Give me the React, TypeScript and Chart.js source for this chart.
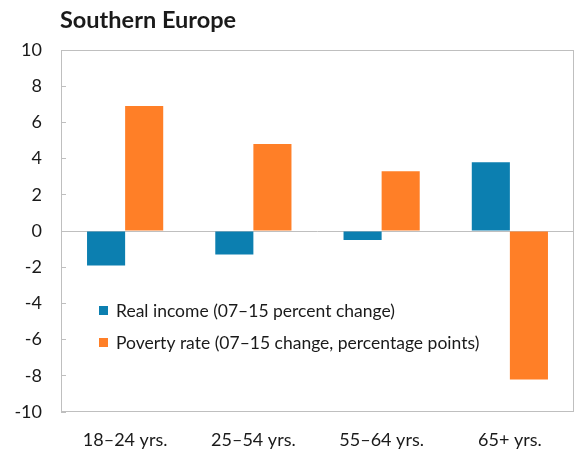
import React, { useEffect, useRef } from "react";
import { Chart, registerables } from "chart.js";

Chart.register(...registerables);

const categories = ["18–24 yrs.", "25–54 yrs.", "55–64 yrs.", "65+ yrs."];
const realIncome = [-1.9, -1.3, -0.5, 3.8];
const povertyRate = [6.9, 4.8, 3.3, -8.2];
const seriesLabels = [
  "Real income (07–15 percent change)",
  "Poverty rate (07–15 change, percentage points)",
];
const seriesColors = ["#0C7FB0", "#FF7F27"];
const titleText = "Southern Europe";

const FONT = "Lato, 'Open Sans', sans-serif";
const TEXT = "#1a1a1a";
const FRAME = "#bfbfbf";

// Frame around the plot, the title and the in-plot legend.
const decorations = {
  id: "decorations",
  afterDatasetsDraw(chart: any) {
    const { ctx, chartArea } = chart;
    ctx.save();
    ctx.strokeStyle = FRAME;
    ctx.lineWidth = 1;
    ctx.strokeRect(
      Math.round(chartArea.left) + 0.5,
      Math.round(chartArea.top) + 0.5,
      Math.round(chartArea.right - chartArea.left) - 1,
      Math.round(chartArea.bottom - chartArea.top) - 1
    );

    ctx.fillStyle = TEXT;
    ctx.font = `bold 23.5px ${FONT}`;
    ctx.textBaseline = "middle";
    ctx.textAlign = "left";
    ctx.fillText(titleText, 60, 20);

    ctx.font = `17.5px ${FONT}`;
    chart.data.datasets.forEach((ds: any, i: number) => {
      const y = 311 + i * 32;
      ctx.fillStyle = ds.backgroundColor;
      ctx.fillRect(99, y - 5, 9, 9);
      ctx.fillStyle = TEXT;
      ctx.fillText(ds.label, 116, y);
    });
    ctx.restore();
  },
};

export default function App() {
  const canvasRef = useRef<HTMLCanvasElement | null>(null);

  useEffect(() => {
    if (!canvasRef.current) return;
    const chart = new Chart(canvasRef.current, {
      type: "bar",
      data: {
        labels: categories,
        datasets: [
          { label: seriesLabels[0], data: realIncome, backgroundColor: seriesColors[0] },
          { label: seriesLabels[1], data: povertyRate, backgroundColor: seriesColors[1] },
        ],
      },
      options: {
        animation: false,
        responsive: false,
        maintainAspectRatio: false,
        layout: { padding: { top: 50, right: 3, left: 0, bottom: 0 } },
        datasets: { bar: { categoryPercentage: 0.594, barPercentage: 1 } },
        plugins: {
          legend: { display: false },
          title: { display: false },
          tooltip: { enabled: false },
        },
        scales: {
          x: {
            grid: { display: false, drawTicks: false },
            border: { display: false },
            ticks: { color: TEXT, font: { family: FONT, size: 18 }, padding: 17 },
            afterFit: (s: any) => {
              s.height = 39;
            },
          },
          y: {
            min: -10,
            max: 10,
            border: { display: false },
            grid: {
              color: (c: any) => (c.tick && c.tick.value === 0 ? FRAME : "rgba(0,0,0,0)"),
              tickColor: FRAME,
              tickLength: -5,
              drawTicks: true,
            },
            ticks: {
              stepSize: 2,
              color: TEXT,
              font: { family: FONT, size: 18 },
              padding: 24,
            },
            afterFit: (s: any) => {
              s.width = 61;
            },
          },
        },
      },
      plugins: [decorations],
    });
    return () => chart.destroy();
  }, []);

  return (
    <div style={{ position: "fixed", left: 0, top: 0, width: 577, height: 451, background: "#fff" }}>
      <canvas ref={canvasRef} width={577} height={451} style={{ display: "block" }} />
    </div>
  );
}
